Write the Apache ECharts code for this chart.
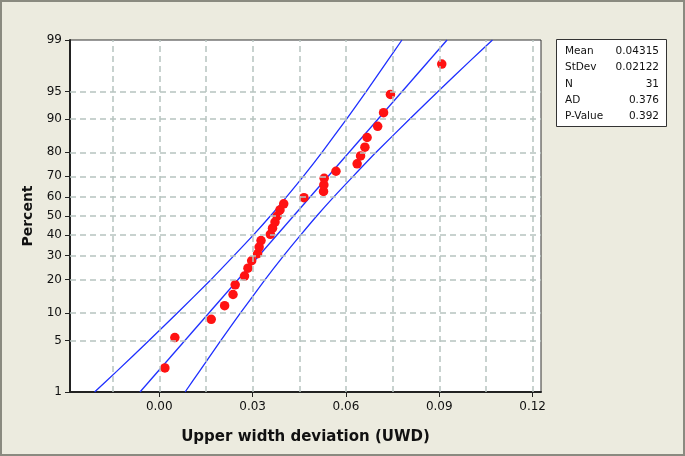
<!DOCTYPE html>
<html>
<head>
<meta charset="utf-8">
<script src="https://cdn.jsdelivr.net/npm/echarts@6/dist/echarts.min.js"></script>
<style>
html,body{margin:0;padding:0;background:#ecebdf;}
#chart{width:685px;height:456px;}
</style>
</head>
<body>
<div id="chart"></div>
<script>
// ---- data ----
const percentTicks = [1, 5, 10, 20, 30, 40, 50, 60, 70, 80, 90, 95, 99];
const gridPercents = [5, 10, 20, 30, 40, 50, 60, 70, 80, 90, 95];
const xTickLabels = [0, 0.03, 0.06, 0.09, 0.12];
const xGridValues = [-0.015, 0, 0.015, 0.03, 0.045, 0.06, 0.075, 0.09, 0.105, 0.12];

const uwdValues = [0.0018, 0.0050, 0.0167, 0.0210, 0.0237, 0.0244, 0.0274, 0.0285, 0.0297, 0.0316,
  0.0321, 0.0327, 0.0357, 0.0364, 0.0372, 0.0379, 0.0388, 0.0400, 0.0465, 0.0528,
  0.0529, 0.0530, 0.0568, 0.0636, 0.0647, 0.0661, 0.0668, 0.0702, 0.0721, 0.0743, 0.0908];
const uwdPercents = [2.23, 5.41, 8.60, 11.78, 14.97, 18.15, 21.34, 24.52, 27.71, 30.89,
  34.08, 37.26, 40.45, 43.63, 46.82, 50.00, 53.18, 56.37, 59.55, 62.74,
  65.92, 69.11, 72.29, 75.48, 78.66, 81.85, 85.03, 88.22, 91.40, 94.59, 97.77];

const fitPercents = [1, 99];
const fitValues = [-0.0062, 0.0925];

const bandPercents = [1, 2, 5, 10, 20, 30, 40, 50, 60, 70, 80, 90, 95, 98, 99];
const leftBand = [-0.0208, -0.0137, -0.0033, 0.0058, 0.0166, 0.0240, 0.0302, 0.0357, 0.0409, 0.0463, 0.0523, 0.0602, 0.0665, 0.0734, 0.0780];
const rightBand = [0.0083, 0.0129, 0.0198, 0.0261, 0.0340, 0.0400, 0.0454, 0.0506, 0.0561, 0.0623, 0.0697, 0.0805, 0.0896, 0.1000, 0.1071];

const statLabels = ['Mean', 'StDev', 'N', 'AD', 'P-Value'];
const statValues = ['0.04315', '0.02122', '31', '0.376', '0.392'];

// ---- normal probability scale (percent -> z) ----
function probit(pct) {
  const p = pct / 100;
  const a = [-3.969683028665376e+01, 2.209460984245205e+02, -2.759285104469687e+02, 1.383577518672690e+02, -3.066479806614716e+01, 2.506628277459239e+00];
  const b = [-5.447609879822406e+01, 1.615858368580409e+02, -1.556989798598866e+02, 6.680131188771972e+01, -1.328068155288572e+01];
  const c = [-7.784894002430293e-03, -3.223964580411365e-01, -2.400758277161838e+00, -2.549732539343734e+00, 4.374664141464968e+00, 2.938163982698783e+00];
  const d = [7.784695709041462e-03, 3.224671290700398e-01, 2.445134137142996e+00, 3.754408661907416e+00];
  const pl = 0.02425, ph = 1 - pl;
  let q, r;
  if (p < pl) {
    q = Math.sqrt(-2 * Math.log(p));
    return (((((c[0]*q+c[1])*q+c[2])*q+c[3])*q+c[4])*q+c[5]) / ((((d[0]*q+d[1])*q+d[2])*q+d[3])*q+1);
  } else if (p <= ph) {
    q = p - 0.5; r = q * q;
    return (((((a[0]*r+a[1])*r+a[2])*r+a[3])*r+a[4])*r+a[5])*q / (((((b[0]*r+b[1])*r+b[2])*r+b[3])*r+b[4])*r+1);
  } else {
    q = Math.sqrt(-2 * Math.log(1 - p));
    return -(((((c[0]*q+c[1])*q+c[2])*q+c[3])*q+c[4])*q+c[5]) / ((((d[0]*q+d[1])*q+d[2])*q+d[3])*q+1);
  }
}

const yTickZ = percentTicks.map(probit);
function zLabel(v) {
  let best = 0, bd = Infinity;
  yTickZ.forEach((z, i) => { const dd = Math.abs(z - v); if (dd < bd) { bd = dd; best = i; } });
  return String(percentTicks[best]);
}

const pointData = uwdValues.map((v, i) => [v, probit(uwdPercents[i])]);
const fitData = fitValues.map((v, i) => [v, probit(fitPercents[i])]);
const leftData = leftBand.map((v, i) => [v, probit(bandPercents[i])]);
const rightData = rightBand.map((v, i) => [v, probit(bandPercents[i])]);

const gridLineStyle = { color: '#b7c4c0', type: [6, 4], width: 1.5 };
const gridMarks = xGridValues.map(v => ({ xAxis: v })).concat(gridPercents.map(p => ({ yAxis: probit(p) })));

const FONT = '"DejaVu Sans", Verdana, sans-serif';
const chart = echarts.init(document.getElementById('chart'), null, { renderer: 'canvas' });

const statTexts = [];
statLabels.forEach((t, i) => {
  statTexts.push({ type: 'text', left: 565, top: 46 + i * 16.2, style: { text: t, fontFamily: FONT, fontSize: 10.5, fill: '#111' } });
  statTexts.push({ type: 'text', right: 685 - 659, top: 46 + i * 16.2, style: { text: statValues[i], fontFamily: FONT, fontSize: 10.5, fill: '#111', textAlign: 'right' } });
});

const blue = '#1f30ff';

chart.setOption({
  backgroundColor: '#ecebdf',
  animation: false,
  grid: { left: 70, right: 144, top: 40, bottom: 64, show: true, backgroundColor: '#ffffff', borderColor: '#333', borderWidth: 1 },
  xAxis: {
    type: 'value', min: -0.0287, max: 0.1227,
    name: 'Upper width deviation (UWD)', nameLocation: 'middle', nameGap: 38,
    nameTextStyle: { fontFamily: FONT, fontWeight: 'bold', fontSize: 15, color: '#111' },
    axisLine: { show: true, onZero: false, lineStyle: { color: '#222', width: 2 } },
    axisTick: { show: true, customValues: xTickLabels, length: 5, lineStyle: { color: '#222', width: 1 } },
    axisLabel: { customValues: xTickLabels, formatter: v => v.toFixed(2), fontFamily: FONT, fontSize: 12, color: '#111', margin: 9 },
    splitLine: { show: false }
  },
  yAxis: {
    type: 'value', min: probit(1), max: probit(99),
    name: 'Percent', nameLocation: 'middle', nameGap: 34, nameRotate: 90,
    nameTextStyle: { fontFamily: FONT, fontWeight: 'bold', fontSize: 14, color: '#111' },
    axisLine: { show: true, onZero: false, lineStyle: { color: '#222', width: 2 } },
    axisTick: { show: true, customValues: yTickZ, length: 5, lineStyle: { color: '#222', width: 1 } },
    axisLabel: { customValues: yTickZ, formatter: zLabel, fontFamily: FONT, fontSize: 12, color: '#111', margin: 8 },
    splitLine: { show: false }
  },
  graphic: [
    { type: 'rect', shape: { x: 1, y: 1, width: 683, height: 454 }, style: { fill: 'none', stroke: '#8a8a80', lineWidth: 2 }, silent: true },
    { type: 'rect', shape: { x: 556.5, y: 39.5, width: 110, height: 87 }, style: { fill: '#ffffff', stroke: '#333', lineWidth: 1 }, silent: true }
  ].concat(statTexts),
  series: [
    {
      type: 'line', data: [], z: 1, silent: true,
      markLine: { silent: true, precision: 8, symbol: 'none', label: { show: false }, lineStyle: gridLineStyle, animation: false, data: gridMarks }
    },
    { type: 'line', data: leftData, smooth: 0.2, showSymbol: false, z: 3, lineStyle: { color: blue, width: 1.3 } },
    { type: 'line', data: fitData, showSymbol: false, z: 3, lineStyle: { color: blue, width: 1.3 } },
    { type: 'line', data: rightData, smooth: 0.2, showSymbol: false, z: 3, lineStyle: { color: blue, width: 1.3 } },
    { type: 'scatter', data: pointData, symbol: 'circle', symbolSize: 9.5, z: 4, itemStyle: { color: '#ff1212', opacity: 1, borderWidth: 0 } }
  ]
});
</script>
</body>
</html>
